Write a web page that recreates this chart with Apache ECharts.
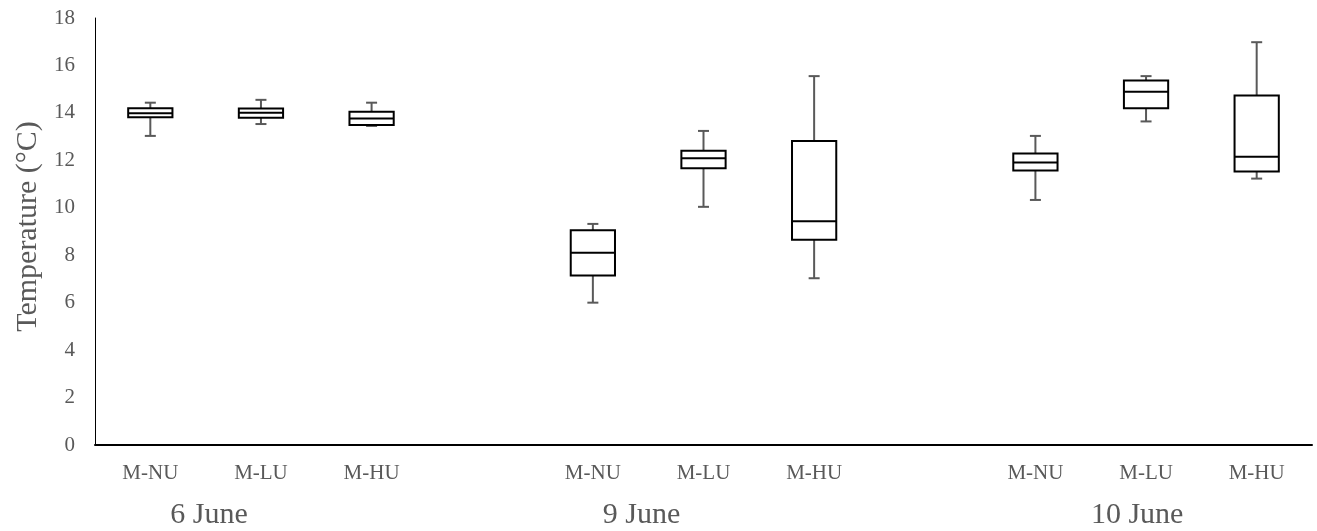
<!DOCTYPE html>
<html>
<head>
<meta charset="utf-8">
<script src="https://cdn.jsdelivr.net/npm/echarts@6/dist/echarts.min.js"></script>
<style>
  html, body { margin: 0; padding: 0; background: #ffffff; }
  #chart { width: 1317px; height: 531px; }
</style>
</head>
<body>
<div id="chart"></div>
<script>
// Category slots along the x axis (blank slots separate the three dates)
const categories = ['M-NU', 'M-LU', 'M-HU', '', 'M-NU', 'M-LU', 'M-HU', '', 'M-NU', 'M-LU', 'M-HU'];
const boxSlots = [0, 1, 2, 4, 5, 6, 8, 9, 10];

// Five-number summaries per box, in slot order
const mins    = [13.03, 13.53, 13.45,  6.00, 10.04,  7.03, 10.33, 13.64, 11.23];
const q1s     = [13.82, 13.80, 13.49,  7.14, 11.67,  8.65, 11.57, 14.20, 11.53];
const medians = [13.99, 14.01, 13.76,  8.10, 12.09,  9.43, 11.91, 14.89, 12.15];
const q3s     = [14.20, 14.18, 14.05,  9.05, 12.40, 12.82, 12.29, 15.37, 14.73];
const maxs    = [14.43, 14.55, 14.43,  9.32, 13.24, 15.55, 13.03, 15.55, 16.98];

// Date group labels and where they sit along the slot scale
const groupNames = ['6 June', '9 June', '10 June'];
const groupLabelSlots = [0.53, 4.44, 8.92];

// Y axis range
const yMin = 0, yMax = 18, yStep = 2;

const FONT = '"Liberation Serif", "Times New Roman", serif';
const TEXT_GREY = '#595959';

const boxData = boxSlots.map((s, i) => [s, mins[i], q1s[i], medians[i], q3s[i], maxs[i]]);

function renderBox(params, api) {
  const x = api.value(0);
  const band = api.size([1, 0])[0];
  const half = band * 0.2;
  const capHalf = 5.5;
  const pMin = api.coord([x, api.value(1)]);
  const pQ1 = api.coord([x, api.value(2)]);
  const pMed = api.coord([x, api.value(3)]);
  const pQ3 = api.coord([x, api.value(4)]);
  const pMax = api.coord([x, api.value(5)]);
  const cx = pMed[0];
  const whisker = { stroke: '#595959', lineWidth: 2 };
  const edge = { stroke: '#000000', lineWidth: 2 };
  return {
    type: 'group',
    children: [
      { type: 'line', shape: { x1: cx, y1: pQ3[1], x2: cx, y2: pMax[1] }, style: whisker },
      { type: 'line', shape: { x1: cx - capHalf, y1: pMax[1], x2: cx + capHalf, y2: pMax[1] }, style: whisker },
      { type: 'line', shape: { x1: cx, y1: pQ1[1], x2: cx, y2: pMin[1] }, style: whisker },
      { type: 'line', shape: { x1: cx - capHalf, y1: pMin[1], x2: cx + capHalf, y2: pMin[1] }, style: whisker },
      { type: 'rect', shape: { x: cx - half, y: pQ3[1], width: half * 2, height: pQ1[1] - pQ3[1] },
        style: { fill: '#ffffff', stroke: '#000000', lineWidth: 2 } },
      { type: 'line', shape: { x1: cx - half, y1: pMed[1], x2: cx + half, y2: pMed[1] }, style: edge }
    ]
  };
}

const chart = echarts.init(document.getElementById('chart'), null, { renderer: 'canvas' });

chart.setOption({
  animation: false,
  backgroundColor: '#ffffff',
  grid: { left: 95, right: 5, top: 18, bottom: 86, containLabel: false },
  xAxis: [
    {
      type: 'category',
      data: categories,
      boundaryGap: true,
      axisLine: { show: true, onZero: false, lineStyle: { color: '#000000', width: 2 } },
      axisTick: { show: false },
      axisLabel: { interval: 0, margin: 18, color: TEXT_GREY, fontFamily: FONT, fontSize: 21 },
      splitLine: { show: false }
    },
    {
      type: 'value',
      min: -0.5,
      max: categories.length - 0.5,
      show: false
    }
  ],
  yAxis: {
    type: 'value',
    min: yMin,
    max: yMax,
    interval: yStep,
    name: 'Temperature (°C)',
    nameLocation: 'middle',
    nameGap: 51,
    nameTextStyle: { color: TEXT_GREY, fontFamily: FONT, fontSize: 30, padding: [0, 0, 0, 10] },
    axisLine: { show: true, onZero: false, lineStyle: { color: '#000000', width: 1 } },
    axisTick: { show: false },
    axisLabel: { margin: 20, color: TEXT_GREY, fontFamily: FONT, fontSize: 21 },
    splitLine: { show: false }
  },
  series: [{
    type: 'custom',
    name: 'Temperature',
    xAxisIndex: 0,
    yAxisIndex: 0,
    dimensions: ['slot', 'min', 'q1', 'median', 'q3', 'max'],
    encode: { x: 0, y: [1, 2, 3, 4, 5] },
    data: boxData,
    renderItem: renderBox
  }]
});

// Date labels under each group of boxes
chart.setOption({
  graphic: groupNames.map((name, i) => ({
    type: 'text',
    x: chart.convertToPixel({ xAxisIndex: 1 }, groupLabelSlots[i]),
    y: 515,
    style: {
      text: name,
      fill: TEXT_GREY,
      font: '30px ' + FONT,
      align: 'center',
      verticalAlign: 'middle'
    }
  }))
});
</script>
</body>
</html>
